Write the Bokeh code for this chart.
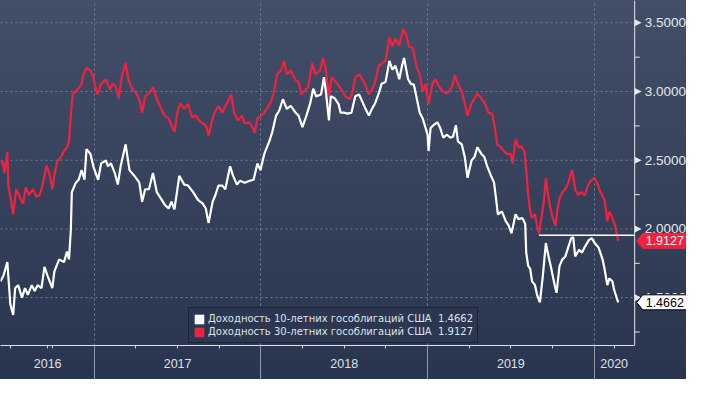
from bokeh.plotting import figure
from bokeh.models import FixedTicker, Legend, LegendItem, Span
from bokeh.core.properties import value
from bokeh.embed import file_html
from bokeh.resources import INLINE

# ---- data (decimal years, yields in %) ----
t10 = [2016.437, 2016.455, 2016.478, 2016.496, 2016.513, 2016.525, 2016.543, 2016.566, 2016.584, 2016.601,
       2016.625, 2016.642, 2016.660, 2016.683, 2016.701, 2016.719, 2016.748, 2016.760, 2016.789, 2016.818,
       2016.836, 2016.848, 2016.859, 2016.865, 2016.889, 2016.906, 2016.924, 2016.941, 2016.953, 2016.977,
       2016.994, 2017.023, 2017.041, 2017.070, 2017.082, 2017.100, 2017.123, 2017.141, 2017.158, 2017.188,
       2017.211, 2017.241, 2017.270, 2017.287, 2017.305, 2017.328, 2017.352, 2017.375, 2017.405, 2017.422,
       2017.446, 2017.463, 2017.481, 2017.510, 2017.540, 2017.563, 2017.593, 2017.622, 2017.651, 2017.669,
       2017.686, 2017.710, 2017.727, 2017.745, 2017.768, 2017.786, 2017.815, 2017.833, 2017.856, 2017.874,
       2017.903, 2017.933, 2017.956, 2017.979, 2017.997, 2018.020, 2018.050, 2018.067, 2018.091, 2018.109,
       2018.132, 2018.155, 2018.179, 2018.208, 2018.226, 2018.249, 2018.273, 2018.296, 2018.314, 2018.331,
       2018.361, 2018.378, 2018.390, 2018.408, 2018.419, 2018.443, 2018.466, 2018.478, 2018.501, 2018.519,
       2018.543, 2018.566, 2018.589, 2018.607, 2018.625, 2018.648, 2018.666, 2018.683, 2018.707, 2018.724,
       2018.748, 2018.771, 2018.789, 2018.807, 2018.830, 2018.848, 2018.859, 2018.883, 2018.900, 2018.918,
       2018.941, 2018.953, 2018.971, 2018.983, 2019.000, 2019.006, 2019.018, 2019.035, 2019.059, 2019.076,
       2019.094, 2019.117, 2019.135, 2019.153, 2019.170, 2019.182, 2019.205, 2019.223, 2019.240, 2019.264,
       2019.282, 2019.299, 2019.323, 2019.340, 2019.358, 2019.381, 2019.399, 2019.411, 2019.422, 2019.446,
       2019.469, 2019.487, 2019.504, 2019.528, 2019.545, 2019.569, 2019.586, 2019.592, 2019.604, 2019.616,
       2019.627, 2019.645, 2019.657, 2019.674, 2019.692, 2019.710, 2019.721, 2019.739, 2019.763, 2019.774,
       2019.792, 2019.809, 2019.827, 2019.845, 2019.862, 2019.874, 2019.886, 2019.909, 2019.927, 2019.944,
       2019.968, 2019.985, 2020.003, 2020.027, 2020.050, 2020.062, 2020.079, 2020.091, 2020.109, 2020.120,
       2020.144]
y10 = [1.619, 1.661, 1.759, 1.452, 1.375, 1.570, 1.591, 1.500, 1.570, 1.521,
       1.591, 1.549, 1.591, 1.570, 1.724, 1.661, 1.570, 1.689, 1.779, 1.759,
       1.835, 1.779, 1.989, 2.268, 2.337, 2.358, 2.428, 2.358, 2.581, 2.546,
       2.456, 2.358, 2.477, 2.498, 2.456, 2.477, 2.407, 2.323, 2.456, 2.616,
       2.428, 2.386, 2.337, 2.198, 2.289, 2.289, 2.407, 2.268, 2.212, 2.177,
       2.149, 2.198, 2.142, 2.386, 2.323, 2.316, 2.268, 2.212, 2.184, 2.149,
       2.044, 2.198, 2.247, 2.316, 2.316, 2.289, 2.456, 2.386, 2.323, 2.351,
       2.337, 2.351, 2.358, 2.477, 2.428, 2.546, 2.637, 2.700, 2.825, 2.860,
       2.944, 2.874, 2.895, 2.846, 2.825, 2.741, 2.825, 2.916, 3.021, 2.965,
       2.979, 3.104, 3.000, 2.790, 2.965, 2.951, 2.909, 2.846, 2.846, 2.839,
       2.846, 2.965, 2.979, 2.930, 2.881, 2.825, 2.874, 2.909, 2.986, 3.056,
       3.070, 3.223, 3.160, 3.188, 3.090, 3.195, 3.244, 3.090, 3.056, 3.049,
       2.916, 2.846, 2.804, 2.755, 2.686, 2.567, 2.734, 2.755, 2.776, 2.734,
       2.665, 2.686, 2.665, 2.672, 2.755, 2.637, 2.616, 2.525, 2.372, 2.498,
       2.525, 2.595, 2.546, 2.525, 2.456, 2.386, 2.337, 2.219, 2.107, 2.128,
       2.058, 2.024, 1.968, 2.107, 2.072, 2.079, 2.037, 1.828, 1.731, 1.710,
       1.619, 1.591, 1.521, 1.466, 1.661, 1.898, 1.828, 1.731, 1.591, 1.535,
       1.731, 1.779, 1.800, 1.870, 1.933, 1.940, 1.800, 1.849, 1.828, 1.870,
       1.919, 1.933, 1.898, 1.863, 1.779, 1.710, 1.591, 1.640, 1.619, 1.556,
       1.4662]

t30 = [2016.437, 2016.449, 2016.460, 2016.478, 2016.484, 2016.502, 2016.513, 2016.531, 2016.548, 2016.572,
       2016.589, 2016.607, 2016.631, 2016.654, 2016.672, 2016.689, 2016.713, 2016.730, 2016.748, 2016.760,
       2016.777, 2016.801, 2016.818, 2016.836, 2016.848, 2016.859, 2016.871, 2016.889, 2016.912, 2016.924,
       2016.936, 2016.953, 2016.977, 2016.994, 2017.018, 2017.041, 2017.070, 2017.094, 2017.111, 2017.129,
       2017.147, 2017.164, 2017.188, 2017.205, 2017.229, 2017.246, 2017.270, 2017.287, 2017.305, 2017.328,
       2017.352, 2017.375, 2017.399, 2017.422, 2017.446, 2017.463, 2017.481, 2017.499, 2017.516, 2017.540,
       2017.563, 2017.587, 2017.610, 2017.628, 2017.651, 2017.669, 2017.686, 2017.704, 2017.721, 2017.745,
       2017.768, 2017.786, 2017.804, 2017.821, 2017.839, 2017.862, 2017.886, 2017.903, 2017.927, 2017.944,
       2017.962, 2017.979, 2018.003, 2018.020, 2018.038, 2018.062, 2018.079, 2018.097, 2018.120, 2018.138,
       2018.155, 2018.179, 2018.208, 2018.226, 2018.243, 2018.267, 2018.284, 2018.308, 2018.326, 2018.355,
       2018.373, 2018.390, 2018.408, 2018.425, 2018.449, 2018.472, 2018.490, 2018.507, 2018.531, 2018.548,
       2018.566, 2018.589, 2018.607, 2018.625, 2018.648, 2018.666, 2018.683, 2018.707, 2018.730, 2018.748,
       2018.771, 2018.789, 2018.807, 2018.830, 2018.854, 2018.871, 2018.889, 2018.912, 2018.936, 2018.953,
       2018.971, 2018.988, 2019.006, 2019.029, 2019.047, 2019.070, 2019.094, 2019.117, 2019.147, 2019.164,
       2019.182, 2019.205, 2019.223, 2019.240, 2019.264, 2019.282, 2019.299, 2019.323, 2019.346, 2019.364,
       2019.387, 2019.405, 2019.417, 2019.440, 2019.457, 2019.475, 2019.499, 2019.510, 2019.528, 2019.545,
       2019.563, 2019.581, 2019.592, 2019.604, 2019.616, 2019.627, 2019.645, 2019.657, 2019.669, 2019.680,
       2019.698, 2019.710, 2019.721, 2019.733, 2019.751, 2019.768, 2019.780, 2019.792, 2019.809, 2019.827,
       2019.845, 2019.856, 2019.868, 2019.886, 2019.903, 2019.921, 2019.944, 2019.962, 2019.980, 2020.003,
       2020.021, 2020.038, 2020.062, 2020.079, 2020.091, 2020.109, 2020.126, 2020.144]
y30 = [2.477, 2.498, 2.407, 2.560, 2.316, 2.198, 2.107, 2.289, 2.247, 2.184,
       2.303, 2.247, 2.289, 2.233, 2.247, 2.316, 2.463, 2.407, 2.289, 2.386,
       2.491, 2.525, 2.567, 2.595, 2.637, 2.825, 2.986, 3.000, 3.035, 3.056,
       3.125, 3.174, 3.153, 3.104, 2.979, 3.056, 3.090, 3.014, 3.056, 3.035,
       2.951, 3.104, 3.209, 3.083, 3.014, 3.000, 2.944, 2.846, 2.965, 2.986,
       3.035, 2.944, 2.881, 2.825, 2.804, 2.755, 2.707, 2.846, 2.916, 2.874,
       2.909, 2.811, 2.825, 2.790, 2.769, 2.755, 2.679, 2.776, 2.846, 2.895,
       2.846, 2.895, 2.930, 2.979, 2.846, 2.790, 2.825, 2.769, 2.776, 2.755,
       2.700, 2.804, 2.825, 2.846, 2.881, 2.930, 3.000, 3.125, 3.153, 3.223,
       3.125, 3.153, 3.083, 3.070, 2.979, 3.014, 3.035, 3.209, 3.125, 3.153,
       3.244, 3.153, 2.965, 3.104, 3.070, 3.035, 3.000, 2.965, 2.944, 2.986,
       3.104, 3.125, 3.090, 3.056, 2.979, 3.014, 3.056, 3.188, 3.209, 3.223,
       3.397, 3.328, 3.383, 3.335, 3.453, 3.418, 3.328, 3.314, 3.174, 3.125,
       3.000, 3.056, 2.909, 3.056, 3.090, 3.035, 3.000, 2.986, 3.035, 3.118,
       3.056, 3.000, 2.916, 2.825, 2.916, 2.951, 2.986, 2.951, 2.909, 2.846,
       2.839, 2.734, 2.616, 2.595, 2.567, 2.546, 2.546, 2.477, 2.651, 2.595,
       2.602, 2.567, 2.428, 2.247, 2.128, 2.079, 2.107, 2.024, 1.968, 2.058,
       2.198, 2.372, 2.268, 2.177, 2.079, 2.024, 2.149, 2.219, 2.268, 2.289,
       2.337, 2.386, 2.428, 2.289, 2.247, 2.268, 2.247, 2.316, 2.351, 2.372,
       2.323, 2.268, 2.212, 2.058, 2.128, 2.079, 2.024, 1.9127]

level_t = [2019.669, 2020.243]
level_v = [1.954, 1.954]

y_ticks = [1.5, 2.0, 2.5, 3.0, 3.5]
y_tick_labels = ["1.5000", "2.0000", "2.5000", "3.0000", "3.5000"]
y_minor = [1.25, 1.75, 2.25, 2.75, 3.25]
year_bounds = [2017, 2018, 2019, 2020]
quarters = [2016.5, 2016.75, 2017.25, 2017.5, 2017.75, 2018.25, 2018.5, 2018.75,
            2019.25, 2019.5, 2019.75]
year_labels = ["2016", "2017", "2018", "2019", "2020"]
year_label_pos = [2016.72, 2017.5, 2018.5, 2019.5, 2020.12]

name10 = "Доходность 10-летних гособлигаций США"
name30 = "Доходность 30-летних гособлигаций США"
last_vals = [1.9127, 1.4662]
last_texts = ["1.9127", "1.4662"]

X_START, T_AXIS, X_END = 2016.437, 2020.243, 2020.554
Y_START, Y_END = 1.152, 3.6625

W, H, BOTTOM = 686, 379, 34
PX = (X_END - X_START) / W               # data units per screen px (x)
PY = (Y_END - Y_START) / (H - BOTTOM)    # data units per screen px (y)

RED = "#f0223f"
TXT = "#e4e7ec"
GRID = "#70829c"

p = figure(width=W, height=H, x_range=(X_START, X_END), y_range=(Y_START, Y_END),
           y_axis_location=None, output_backend="svg", toolbar_location=None,
           min_border_left=0, min_border_right=0, min_border_top=0, min_border_bottom=BOTTOM,
           background_fill_color=None, border_fill_color=None, outline_line_color=None)
p.styles = {"background": "linear-gradient(180deg, #434f68 0%, #29344f 100%)"}

# ---- bottom axis: quarter ticks, year labels, year separators ----
xa = p.xaxis[0]
xa.bounds = (X_START, T_AXIS)
major = sorted(set(quarters + year_label_pos))
xa.ticker = FixedTicker(ticks=major, minor_ticks=year_bounds)
overrides = {q: "" for q in major}
overrides.update(dict(zip(year_label_pos, year_labels)))
xa.major_label_overrides = overrides
xa.major_label_text_font = "Liberation Sans"
xa.major_label_text_font_size = "12.5px"
xa.major_label_text_color = "#dde1e7"
xa.major_label_standoff = -21
xa.major_tick_out = 3
xa.major_tick_in = 0
xa.major_tick_line_color = "#cfd4dc"
xa.minor_tick_out = BOTTOM
xa.minor_tick_in = 0
xa.minor_tick_line_color = "#8e98ab"
xa.axis_line_color = "#dde1e7"

# ---- grids ----
p.xgrid.ticker = FixedTicker(ticks=year_bounds)
p.xgrid.grid_line_color = GRID
p.xgrid.grid_line_dash = "2 3"
p.ygrid.grid_line_color = None
p.segment(x0=X_START, x1=T_AXIS, y0=y_ticks, y1=y_ticks,
          line_color=GRID, line_dash="2 3", line_width=1)

# ---- series ----
p.line(t30, y30, line_color=RED, line_width=2.2)
p.line(t10, y10, line_color="white", line_width=2.2)
p.line(level_t, level_v, line_color="white", line_width=1.5)

# ---- right value axis (drawn inside the canvas frame) ----
p.add_layout(Span(location=T_AXIS, dimension="height", line_color=TXT, line_width=1))
p.segment(x0=T_AXIS, x1=T_AXIS + 5 * PX, y0=y_minor, y1=y_minor, line_color=TXT, line_width=1)
p.patches(xs=[[T_AXIS, T_AXIS + 7 * PX, T_AXIS] for _ in y_ticks],
          ys=[[v + 3.5 * PY, v, v - 3.5 * PY] for v in y_ticks],
          fill_color=TXT, line_color=None)
p.text(x=[T_AXIS] * len(y_ticks), y=y_ticks, text=y_tick_labels, x_offset=10,
       text_align="left", text_baseline="middle", text_color=TXT,
       text_font=value("Liberation Sans"), text_font_size="13.5px")

# ---- last-value tags ----
tag_fill = [RED, "white"]
tag_line = [RED, "black"]
tag_text = ["white", "black"]
p.patches(xs=[[T_AXIS + 2 * PX, T_AXIS + 8 * PX, T_AXIS + 52 * PX, T_AXIS + 52 * PX, T_AXIS + 8 * PX]
              for _ in last_vals],
          ys=[[v, v + 7.5 * PY, v + 7.5 * PY, v - 7.5 * PY, v - 7.5 * PY] for v in last_vals],
          fill_color=tag_fill, line_color=tag_line, line_width=1)
p.text(x=[T_AXIS] * len(last_vals), y=last_vals, text=last_texts, x_offset=11,
       text_align="left", text_baseline="middle", text_color=tag_text,
       text_font=value("Liberation Sans"), text_font_size="12.5px")

# ---- legend (square swatches) ----
sw10 = p.rect(x=[t10[-1]], y=[y10[-1]], width=0, height=0, fill_color="white", line_color=None)
sw30 = p.rect(x=[t30[-1]], y=[y30[-1]], width=0, height=0, fill_color=RED, line_color=None)
sw10.visible = False
sw30.visible = False
legend = Legend(items=[
    LegendItem(label=name10 + "\u00a0\u00a0" + last_texts[1], renderers=[sw10]),
    LegendItem(label=name30 + "\u00a0\u00a0" + last_texts[0], renderers=[sw30]),
], location=(188, 2))
legend.margin = 0
legend.padding = 4
legend.spacing = 0
legend.label_height = 13
legend.glyph_height = 12
legend.glyph_width = 12
legend.label_standoff = 3
legend.label_text_font = "DejaVu Sans"
legend.label_text_font_size = "10px"
legend.label_text_color = "#dfe2e8"
legend.background_fill_color = "#2b3651"
legend.background_fill_alpha = 1
legend.border_line_color = "#0c1018"
legend.border_line_width = 1
legend.inactive_fill_alpha = 0
p.add_layout(legend)

open("out.html", "w").write(file_html(p, INLINE))
